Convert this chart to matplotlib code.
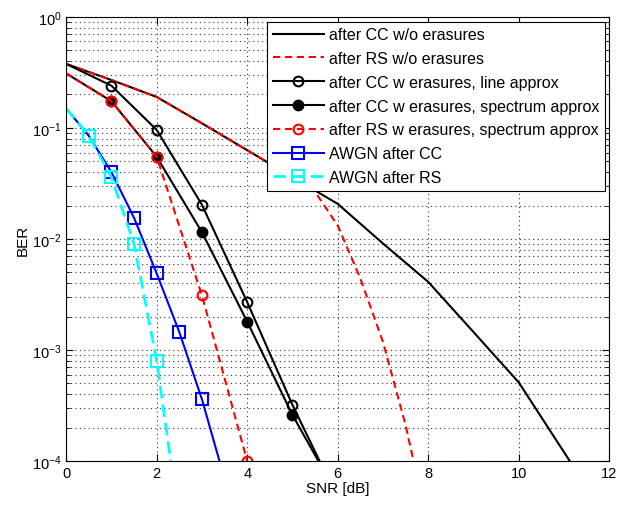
import numpy as np
import matplotlib.pyplot as plt
from matplotlib.ticker import LogLocator, FixedLocator, NullFormatter

plt.rcParams['font.family'] = ['Liberation Sans', 'DejaVu Sans']

# SNR grids [dB]
snr_int = [0, 1, 2, 3, 4, 5, 6, 7, 8, 9, 10, 11, 12]
snr_rs = [0, 1, 2, 3, 4, 5, 5.5, 6, 6.5, 7, 7.5, 8]
snr_er = [0, 1, 2, 3, 4, 5, 6]
snr_awgn = [0, 0.5, 1, 1.5, 2, 2.5, 3, 3.5]

# BER curves
cc_no_er = [0.377, 0.27, 0.19, 0.11, 0.063, 0.036, 0.0207, 0.0091, 0.0041,
            0.00145, 5.1e-4, 1.2e-4, 2.8e-5]
rs_no_er = [0.377, 0.27, 0.19, 0.11, 0.063, 0.036, 0.0265, 0.0132, 0.0044,
            0.00118, 2.1e-4, 2.5e-5]
cc_er_line = [0.377, 0.24, 0.096, 0.0203, 0.0027, 3.2e-4, 4.6e-5]
cc_er_spec = [0.31, 0.174, 0.055, 0.0115, 0.0018, 2.6e-4, 4.9e-5]
rs_er_spec = [0.31, 0.174, 0.055, 0.0031, 1e-4]
awgn_cc = [0.15, 0.085, 0.04, 0.0155, 0.0049, 0.00145, 3.6e-4, 6.9e-5]
awgn_rs = [0.15, 0.085, 0.036, 0.009, 8e-4, 2.8e-5]

fig = plt.figure(figsize=(6.18, 5.10), dpi=100)
ax = fig.add_axes([0.107, 0.094, 0.879, 0.871])

dash = (3.5, 2.2)
ax.semilogy(snr_int, cc_no_er, color='k', lw=1.5, label='after CC w/o erasures')
ax.semilogy(snr_rs, rs_no_er, color='r', ls='--', lw=1.5, dashes=dash,
            label='after RS w/o erasures')
ax.semilogy(snr_er, cc_er_line, color='k', lw=1.5, marker='o', ms=7,
            mfc='none', mew=1.5, markevery=[1, 2, 3, 4, 5],
            label='after CC w erasures, line approx')
ax.semilogy(snr_er, cc_er_spec, color='k', lw=1.5, marker='o', ms=7,
            mfc='k', mew=1.5, markevery=[1, 2, 3, 4, 5],
            label='after CC w erasures, spectrum approx')
ax.semilogy(snr_er[:5], rs_er_spec, color='r', ls='--', lw=1.5, dashes=dash,
            marker='o', ms=7, mfc='none', mew=1.5, markevery=[1, 2, 3, 4],
            label='after RS w erasures, spectrum approx')
ax.semilogy(snr_awgn, awgn_cc, color='b', lw=1.5, marker='s', ms=8,
            mfc='none', mew=1.5, markevery=[1, 2, 3, 4, 5, 6],
            label='AWGN after CC')
ax.semilogy(snr_awgn[:6], awgn_rs, color='#00ffff', ls='--', lw=2, dashes=(4.5, 2.2),
            marker='s', ms=8, mfc='none', mew=1.5, markevery=[1, 2, 3, 4],
            label='AWGN after RS')

ax.set_xlim(0, 12)
ax.set_ylim(1e-4, 1)
ax.xaxis.set_major_locator(FixedLocator([0, 2, 4, 6, 8, 10, 12]))
ax.yaxis.set_major_locator(LogLocator(base=10, numticks=10))
ax.yaxis.set_minor_locator(LogLocator(base=10, subs=np.arange(2, 10), numticks=10))
ax.yaxis.set_minor_formatter(NullFormatter())

ax.grid(True, which='major', axis='both', color='0.2', ls=(0, (1, 3)), lw=0.8)
ax.grid(True, which='minor', axis='y', color='0.2', ls=(0, (1, 3)), lw=0.8)
ax.tick_params(which='both', direction='in', top=True, right=True, labelsize=10.5)
ax.tick_params(which='major', length=5)
ax.tick_params(which='minor', length=3)
for s in ax.spines.values():
    s.set_linewidth(0.8)

ax.set_xlabel('SNR [dB]', fontsize=11, labelpad=1)
ax.set_ylabel('BER', fontsize=11, labelpad=1)

leg = ax.legend(loc='upper right', fontsize=11.5, handlelength=3.2,
                handletextpad=0.3, labelspacing=0.55, borderaxespad=0.3,
                fancybox=False, framealpha=1, edgecolor='k', borderpad=0.35)
leg.get_frame().set_linewidth(0.8)

fig.savefig('out.png', dpi=100)
